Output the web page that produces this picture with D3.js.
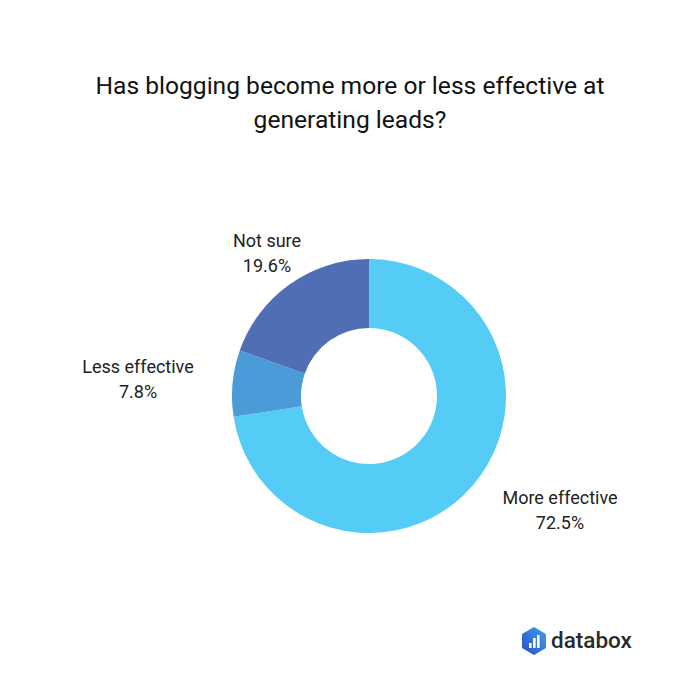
<!DOCTYPE html>
<html><head><meta charset="utf-8">
<script src="https://cdn.jsdelivr.net/npm/d3@7/dist/d3.min.js"></script>
<style>html,body{margin:0;padding:0;background:#fff;}svg{display:block;}</style>
</head><body>
<svg id="c" width="700" height="700"></svg>
<script>
const categories = ["More effective", "Less effective", "Not sure"];
const values = [72.5, 7.8, 19.6];
const labels = ["72.5%", "7.8%", "19.6%"];
const colors = ["#55CCF5", "#4A9BD8", "#4F6EB3"];
const titleLines = ["Has blogging become more or less effective at", "generating leads?"];

const svg = d3.select("#c");
const font = "Roboto, 'Noto Sans', sans-serif";

svg.append("g").selectAll("text").data(titleLines).join("text")
  .attr("x", 350).attr("y", (d,i)=>94 + i*34)
  .attr("text-anchor","middle").attr("font-family",font).attr("font-size",24.6)
  .attr("fill","#111").text(d=>d);

const cx = 369, cy = 396, R = 137, r = 68;
const pie = d3.pie().sort(null).value(d=>d.v);
const data = categories.map((c,i)=>({c, v:values[i], l:labels[i], col:colors[i]}));
const arcs = pie(data);
const arc = d3.arc().innerRadius(r).outerRadius(R);
const g = svg.append("g").attr("transform",`translate(${cx},${cy})`);
g.selectAll("path").data(arcs).join("path").attr("d",arc).attr("fill",d=>d.data.col);

const lg = svg.append("g").attr("transform",`translate(${cx},${cy})`);
const manual = [[191,108],[-231,-23],[-102,-149]];
arcs.forEach((a,i)=>{
  const t = lg.append("text").attr("text-anchor","middle").attr("font-family",font)
    .attr("font-size",18).attr("fill","#222");
  const pos = manual[i];
  t.append("tspan").attr("x",pos[0]).attr("y",pos[1]).text(a.data.c);
  t.append("tspan").attr("x",pos[0]).attr("y",pos[1]+24.5).text(a.data.l);
});

// databox logo
const logo = svg.append("g").attr("transform","translate(534,641)");
const defs = svg.append("defs");
const grad = defs.append("linearGradient").attr("id","lg").attr("x1","0").attr("y1","1").attr("x2","1").attr("y2","0");
grad.append("stop").attr("offset","0").attr("stop-color","#2B4FC8");
grad.append("stop").attr("offset","1").attr("stop-color","#3FA0E8");
const hx = 11, hy = 13;
const hex = [[0,-hy],[hx,-hy/2],[hx,hy/2],[0,hy],[-hx,hy/2],[-hx,-hy/2]];
logo.append("path").attr("d","M"+hex.map(p=>p.join(",")).join("L")+"Z").attr("fill","url(#lg)")
  .attr("stroke","url(#lg)").attr("stroke-width",2).attr("stroke-linejoin","round");
[[-5,2,5],[-1,-3,10],[3,-6,13]].forEach(([x,y,h])=>{
  logo.append("rect").attr("x",x).attr("y",y).attr("width",2.6).attr("height",h).attr("fill","#fff");
});
svg.append("text").attr("x",551).attr("y",648).attr("font-family",font).attr("font-size",22.5)
  .attr("font-weight",500).attr("fill","#2a2a2a").text("databox");
</script>
</body></html>
